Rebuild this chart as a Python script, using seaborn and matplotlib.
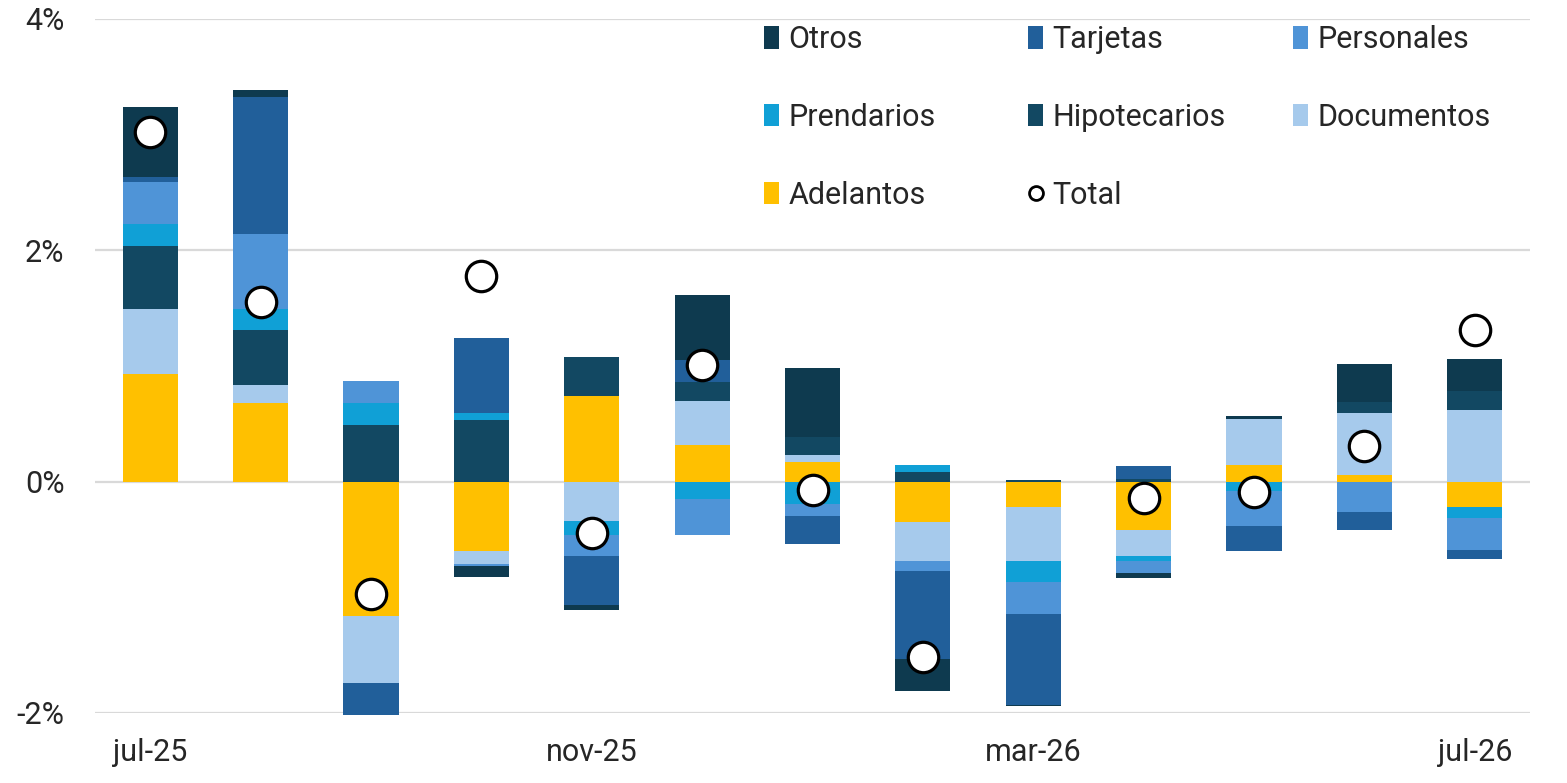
import numpy as np
import pandas as pd
import matplotlib
matplotlib.use("Agg")
import matplotlib.pyplot as plt
from matplotlib.lines import Line2D
from matplotlib.patches import Patch
import seaborn as sns

# %%
meses = ["jul-25", "ago-25", "sep-25", "oct-25", "nov-25", "dic-25", "ene-26",
         "feb-26", "mar-26", "abr-26", "may-26", "jun-26", "jul-26"]

adelantos    = [0.93, 0.68, -1.16, -0.60, 0.74, 0.32, 0.17, -0.35, -0.22, -0.42, 0.14, 0.06, -0.22]
documentos   = [0.56, 0.155, -0.58, -0.11, -0.34, 0.38, 0.06, -0.34, -0.47, -0.22, 0.40, 0.53, 0.62]
hipotecarios = [0.55, 0.48, 0.49, 0.53, 0.34, 0.16, 0.16, 0.08, 0.015, 0.025, 0.0, 0.095, 0.16]
prendarios   = [0.19, 0.18, 0.19, 0.06, -0.12, -0.15, -0.19, 0.06, -0.18, -0.05, -0.08, 0.0, -0.09]
personales   = [0.36, 0.65, 0.19, -0.02, -0.18, -0.31, -0.11, -0.08, -0.27, -0.10, -0.30, -0.26, -0.28]
tarjetas     = [0.04, 1.18, -0.28, 0.655, -0.43, 0.19, -0.24, -0.76, -0.79, 0.11, -0.22, -0.16, -0.08]
otros        = [0.61, 0.06, 0.0, -0.095, -0.04, 0.56, 0.59, -0.28, -0.01, -0.04, 0.03, 0.33, 0.28]
total        = [3.02, 1.55, -0.97, 1.78, -0.44, 1.01, -0.07, -1.52, np.nan, -0.14, -0.09, 0.31, 1.31]

df = pd.DataFrame({
    "Adelantos": adelantos,
    "Documentos": documentos,
    "Hipotecarios": hipotecarios,
    "Prendarios": prendarios,
    "Personales": personales,
    "Tarjetas": tarjetas,
    "Otros": otros,
}, index=meses)

colores = {
    "Adelantos": "#FFC000",
    "Documentos": "#A6CAEC",
    "Hipotecarios": "#124862",
    "Prendarios": "#10A0D6",
    "Personales": "#4F94D7",
    "Tarjetas": "#215F9A",
    "Otros": "#0E3A4F",
}

# %%
sns.set_theme(style="white")
plt.rcParams["font.family"] = ["Roboto", "DejaVu Sans"]
fs = 22

fig = plt.figure(figsize=(15.67, 7.83), dpi=100)
ax = fig.add_axes([95 / 1567, 1 - 713 / 783, (1530 - 95) / 1567, (713 - 19) / 783])

x = np.arange(len(meses))
pos = np.zeros(len(meses))
neg = np.zeros(len(meses))
for col in df.columns:
    v = df[col].to_numpy()
    base = np.where(v >= 0, pos, neg)
    ax.bar(x, v, bottom=base, width=0.5, color=colores[col], linewidth=0,
           zorder=2, clip_on=False)
    pos = pos + np.where(v >= 0, v, 0)
    neg = neg + np.where(v < 0, v, 0)

sns.scatterplot(
    x=x, y=total,
    s=480, color="white", edgecolor="black", linewidth=2.3,
    zorder=3, ax=ax, legend=False,
)

ax.set_xlim(-0.5, len(meses) - 0.5)
ax.set_ylim(-2, 4)
ax.set_yticks([-2, 0, 2, 4])
ax.set_yticklabels(["-2%", "0%", "2%", "4%"])
ax.set_xticks(x)
ax.set_xticklabels([m if i % 4 == 0 else "" for i, m in enumerate(meses)])
ax.tick_params(axis="y", length=0, pad=22, labelsize=fs)
ax.tick_params(axis="x", length=0, pad=18, labelsize=fs)
ax.grid(axis="y", color="#D9D9D9", linewidth=1.6)
ax.grid(axis="x", visible=False)
ax.set_axisbelow(True)
sns.despine(ax=ax, left=True, bottom=True)

# legend: three fixed-width columns, as in the original
h = {c: Patch(facecolor=colores[c], edgecolor="none") for c in df.columns}
h["Total"] = Line2D([], [], linestyle="none", marker="o", markersize=10,
                    markerfacecolor="white", markeredgecolor="black", markeredgewidth=2)
columnas = [["Otros", "Prendarios", "Adelantos"],
            ["Tarjetas", "Hipotecarios", "Total"],
            ["Personales", "Documentos"]]
x_col = [764, 1028, 1293]
for xc, labs in zip(x_col, columnas):
    fig.legend(
        [h[k] for k in labs], labs,
        loc="upper left", bbox_to_anchor=(xc / 1567, 1 - 25 / 783),
        frameon=False, fontsize=fs,
        handlelength=0.5, handleheight=0.75, handletextpad=0.3,
        labelspacing=1.6, borderpad=0, borderaxespad=0,
    )

plt.savefig("out.png", dpi=100)
